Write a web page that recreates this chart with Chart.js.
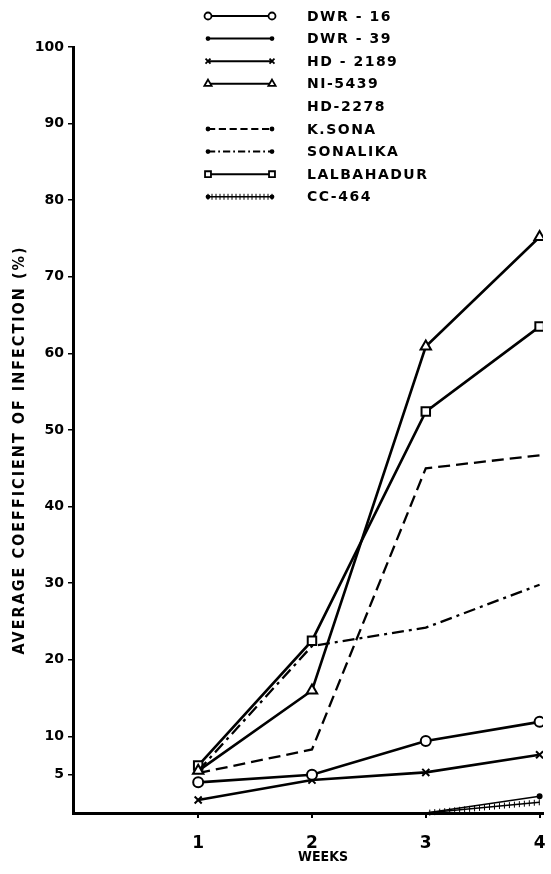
<!DOCTYPE html>
<html>
<head>
<meta charset="utf-8">
<script src="https://cdn.jsdelivr.net/npm/chart.js@4.4.1/dist/chart.umd.min.js"></script>
<style>
  html, body { margin: 0; padding: 0; background: #fff; }
  #wrap { width: 551px; height: 874px; position: relative; }
</style>
</head>
<body>
<div id="wrap"><canvas id="chart"></canvas></div>
<script>
// weeks after inoculation
const weeks = [1, 2, 3, 4];

// average coefficient of infection (%) per variety
const dwr16 = [4.0, 5.0, 9.4, 11.9];
const dwr39 = [0, 0, 0, 2.2];
const hd2189 = [1.7, 4.3, 5.3, 7.6];
const ni5439 = [5.5, 16.0, 60.9, 75.2];
const hd2278 = [0, 0, 0, 0];
const kSona = [5.2, 8.3, 45.0, 46.7];
const sonalika = [5.5, 21.8, 24.2, 29.8];
const lalbahadur = [6.2, 22.5, 52.4, 63.5];
const cc464 = [0, 0, 0, 1.4];

const yTicks = [5, 10, 20, 30, 40, 50, 60, 70, 80, 90, 100];
const xTicks = [1, 2, 3, 4];

const labels = ['DWR - 16', 'DWR - 39', 'HD - 2189', 'NI-5439', 'HD-2278', 'K.SONA', 'SONALIKA', 'LALBAHADUR', 'CC-464'];

const pts = arr => weeks.map((w, i) => ({x: w, y: arr[i]}));

const base = {
  borderColor: '#000',
  backgroundColor: '#fff',
  borderWidth: 2.6,
  pointBorderColor: '#000',
  pointBorderWidth: 2,
  tension: 0,
  fill: false,
};

const datasets = [
  {...base, label: labels[0], data: pts(dwr16), pointStyle: 'circle', pointRadius: 5},
  {...base, label: labels[1], data: pts(dwr39), pointStyle: 'circle', pointRadius: [0, 0, 0, 2], pointBackgroundColor: '#000', borderWidth: 1.5},
  {...base, label: labels[2], data: pts(hd2189), pointStyle: 'crossRot', pointRadius: 5},
  {...base, label: labels[3], data: pts(ni5439), pointStyle: 'triangle', pointRadius: 6},
  {...base, label: labels[4], data: pts(hd2278), pointRadius: 0, borderWidth: 0, noLegendLine: true},
  {...base, label: labels[5], data: pts(kSona), pointRadius: 0, borderDash: [12, 6], borderWidth: 2.3},
  {...base, label: labels[6], data: pts(sonalika), pointRadius: 0, borderDash: [12, 5, 3, 5], borderWidth: 2.3},
  {...base, label: labels[7], data: pts(lalbahadur), pointStyle: 'rect', pointRadius: 6},
  {...base, label: labels[8], data: pts(cc464), pointRadius: 0, borderWidth: 1.5, hatch: true},
];

// hatch marks along CC-464 where it leaves the axis
const hatchPlugin = {
  id: 'hatch',
  afterDatasetsDraw(chart) {
    const ctx = chart.ctx;
    chart.data.datasets.forEach((ds, di) => {
      if (!ds.hatch) return;
      const meta = chart.getDatasetMeta(di);
      ctx.save();
      ctx.strokeStyle = '#000';
      ctx.lineWidth = 1;
      for (let i = 1; i < meta.data.length; i++) {
        if (ds.data[i].y === 0 && ds.data[i - 1].y === 0) continue;
        const a = meta.data[i - 1], b = meta.data[i];
        const len = Math.hypot(b.x - a.x, b.y - a.y);
        for (let d = 4; d < len; d += 5) {
          const t = d / len;
          const x = a.x + (b.x - a.x) * t, y = a.y + (b.y - a.y) * t;
          ctx.beginPath(); ctx.moveTo(x, y - 3); ctx.lineTo(x, y + 3); ctx.stroke();
        }
      }
      ctx.restore();
    });
  }
};

// legend drawn as a column in the upper middle of the plot
const legendPlugin = {
  id: 'colLegend',
  afterDraw(chart) {
    const ctx = chart.ctx;
    const x0 = 208, x1 = 272, tx = 307, top = 16, step = 22.6;
    ctx.save();
    chart.data.datasets.forEach((ds, i) => {
      const y = top + i * step;
      if (!ds.noLegendLine) {
        ctx.save();
        ctx.strokeStyle = '#000';
        ctx.lineWidth = ds.hatch ? 1.5 : 2;
        ctx.setLineDash(ds.borderDash ? ds.borderDash.map(v => v * 0.6) : []);
        ctx.beginPath(); ctx.moveTo(x0, y); ctx.lineTo(x1, y); ctx.stroke();
        ctx.setLineDash([]);
        if (ds.hatch) {
          ctx.lineWidth = 1;
          for (let x = x0; x <= x1; x += 4) {
            ctx.beginPath(); ctx.moveTo(x, y - 3); ctx.lineTo(x, y + 3); ctx.stroke();
          }
        }
        const style = ds.pointStyle;
        const open = style && !Array.isArray(ds.pointRadius);
        const opts = {pointStyle: open ? style : 'circle', rotation: 0, radius: open ? ds.pointRadius * 0.7 : 1.5, borderWidth: 1.8};
        ctx.strokeStyle = '#000';
        ctx.fillStyle = open ? '#fff' : '#000';
        ctx.lineWidth = 1.8;
        [x0, x1].forEach(px => Chart.helpers.drawPoint(ctx, opts, px, y));
        ctx.restore();
      }
      ctx.fillStyle = '#000';
      ctx.font = 'bold 14px "DejaVu Sans"';
      ctx.letterSpacing = '1.5px';
      ctx.textBaseline = 'middle';
      ctx.textAlign = 'left';
      ctx.fillText(ds.label, tx, y + 1);
    });
    ctx.restore();
  }
};

// shift an axis title (and optionally space its letters) to sit as in the original
function shiftTitle(dx, dy, spacing) {
  return axis => {
    if (axis._shifted) return;
    const orig = axis.drawTitle;
    axis.drawTitle = function () {
      this.ctx.save();
      if (spacing) this.ctx.letterSpacing = spacing;
      this.ctx.translate(dx, dy);
      orig.call(this);
      this.ctx.restore();
    };
    axis._shifted = true;
  };
}

new Chart(document.getElementById('chart'), {
  type: 'line',
  data: { datasets },
  options: {
    responsive: true,
    maintainAspectRatio: false,
    animation: false,
    layout: { padding: { top: 47, right: 3, bottom: 0, left: 0 } },
    plugins: { legend: { display: false }, tooltip: { enabled: false } },
    scales: {
      x: {
        type: 'linear',
        min: -0.1,
        max: 4.03,
        afterBuildTicks: axis => { axis.ticks = xTicks.map(v => ({value: v})); },
        afterFit: axis => { axis.height = 61; axis.paddingRight = 0; axis.paddingLeft = 0; },
        afterUpdate: shiftTitle(15, 0),
        border: { color: '#000', width: 3 },
        grid: { drawOnChartArea: false, drawTicks: true, tickLength: 5, color: '#000', lineWidth: 2 },
        ticks: { color: '#000', font: { family: 'DejaVu Sans', weight: 'bold', size: 17 }, padding: 15, maxRotation: 0 },
        title: { display: true, text: 'WEEKS', color: '#000', font: { family: 'DejaVu Sans Condensed', weight: 'bold', size: 14 }, padding: { top: 0, bottom: 8 } }
      },
      y: {
        min: 0,
        max: 100,
        afterBuildTicks: axis => { axis.ticks = yTicks.map(v => ({value: v})); },
        afterFit: axis => { axis.width = 73; },
        afterUpdate: shiftTitle(0, 20, '2px'),
        border: { color: '#000', width: 3 },
        grid: { drawOnChartArea: false, drawTicks: true, tickLength: 5, color: '#000', lineWidth: 1.5 },
        ticks: { color: '#000', font: { family: 'DejaVu Sans', weight: 'bold', size: 14 }, padding: 4 },
        title: { display: true, text: 'AVERAGE COEFFICIENT OF INFECTION (%)', color: '#000', font: { family: 'DejaVu Sans Condensed', weight: 'bold', size: 16 }, padding: { top: 10, bottom: 0 } }
      }
    }
  },
  plugins: [hatchPlugin, legendPlugin]
});
</script>
</body>
</html>
